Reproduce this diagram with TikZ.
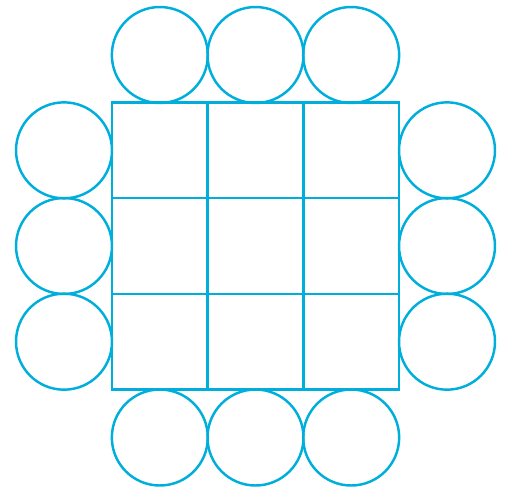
\documentclass[tikz,border=0pt]{standalone}
\usepackage{tikz}
\definecolor{Cyan}{HTML}{00AEDB}

\begin{document}
\begin{tikzpicture}[x=0.02cm,y=-0.02cm,
  cell/.style={draw=Cyan,rectangle,line width=1.4pt,minimum size=1.9134cm,
    inner sep=0pt,outer sep=0pt},
  seat/.style={draw=Cyan,circle,line width=1.4pt,minimum size=1.92cm,
    inner sep=0pt,outer sep=0pt}
]
\useasboundingbox (0,0) rectangle (506,490);
% table of 3x3 cells
\foreach \r in {1,2,3}{
  \foreach \c in {1,2,3}{
    \node[cell](c\r\c) at ({112+95.67*(\c-0.5)},{102.5+95.67*(\r-0.5)}){};
  }
}
% seats round the table
\foreach \i in {1,2,3}{
  \node[seat](top\i) at ({112+95.67*(\i-0.5)},55){};
  \node[seat](bot\i) at ({112+95.67*(\i-0.5)},437.5){};
  \node[seat](lft\i) at (64,{102.5+95.67*(\i-0.5)}){};
  \node[seat](rgt\i) at (447,{102.5+95.67*(\i-0.5)}){};
}
\end{tikzpicture}
\end{document}
